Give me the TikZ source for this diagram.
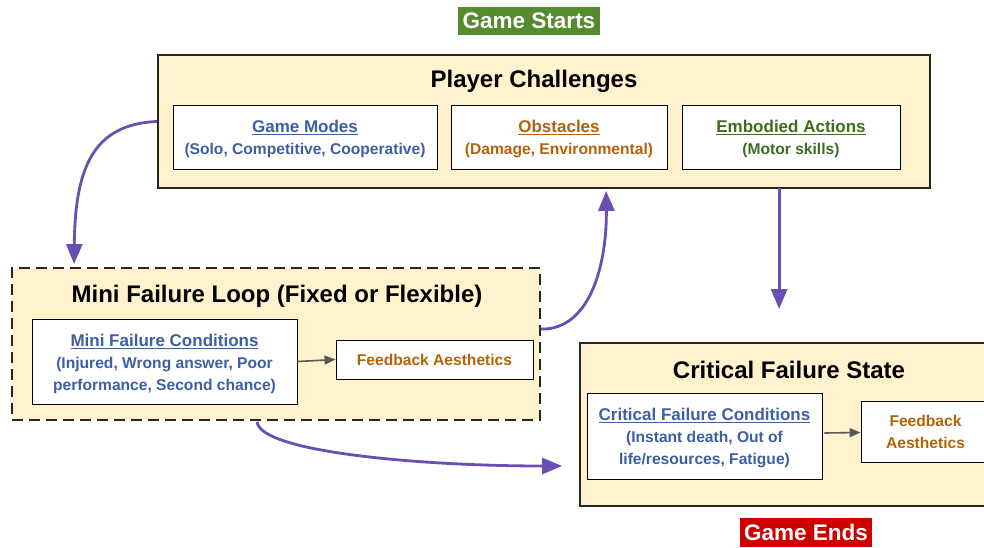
\documentclass[tikz,border=0pt]{standalone}
\usepackage{fontspec}
\setmainfont{Liberation Sans}
\usetikzlibrary{arrows.meta,calc}
\definecolor{boxfill}{HTML}{FFF2CC}
\definecolor{blueT}{HTML}{3D5FA3}
\definecolor{orangeT}{HTML}{B4620A}
\definecolor{greenT}{HTML}{3A6E22}
\definecolor{startG}{HTML}{558B2F}
\definecolor{endR}{HTML}{CC0000}
\definecolor{purp}{HTML}{6A4FB3}
\definecolor{grayA}{HTML}{595959}
\tikzset{
  bigbox/.style={draw=black!85, line width=1.8pt, fill=boxfill, inner sep=0pt},
  innerbox/.style={draw=black, line width=0.9pt, fill=white, inner sep=0pt, align=center,
    font=\fontsize{15.6}{22}\selectfont\bfseries},
  titletxt/.style={inner sep=0pt, font=\fontsize{24}{28}\selectfont\bfseries},
  tagbox/.style={inner sep=0pt, text=white, font=\fontsize{22.5}{26}\selectfont\bfseries},
  flow/.style={draw=purp, line width=2.8pt, -{Triangle[length=20pt,width=16pt]}},
  small/.style={draw=grayA, line width=1.6pt, -{Triangle[length=11pt,width=9pt]}},
}
\newcommand{\hd}[1]{\rule{0pt}{17pt}{\fontsize{17}{22}\selectfont\underline{#1}}}
\begin{document}
\begin{tikzpicture}[x=1pt,y=-1pt]
\useasboundingbox (0,0) rectangle (984,548);
\fill[white] (0,0) rectangle (984,548);

% Game Starts
\node[tagbox, fill=startG, minimum width=142, minimum height=28] (gs) at (529,21) {Game Starts};

% Player Challenges
\node[bigbox, minimum width=772, minimum height=133] (pc) at (544,121.5) {};
\node[titletxt] (pct) at (534,81.5) {Player Challenges};
\node[innerbox, text=blueT, minimum width=264, minimum height=64] (gm) at (305,137)
  {\hd{Game Modes}\\(Solo, Competitive, Cooperative)};
\node[innerbox, text=orangeT, minimum width=216, minimum height=64] (ob) at (559,137)
  {\hd{Obstacles}\\(Damage, Environmental)};
\node[innerbox, text=greenT, minimum width=218, minimum height=64] (ea) at (791,137)
  {\hd{Embodied Actions}\\(Motor skills)};

% Mini Failure Loop
\node[bigbox, dash pattern=on 11pt off 6pt, minimum width=528, minimum height=152] (ml) at (276,344) {};
\node[titletxt] (mlt) at (277,296.5) {Mini Failure Loop (Fixed or Flexible)};
\node[innerbox, text=blueT, minimum width=265, minimum height=85] (mc) at (164.5,361.5)
  {\hd{Mini Failure Conditions}\\(Injured, Wrong answer, Poor\\performance, Second chance)};
\node[innerbox, text=orangeT, minimum width=197, minimum height=39] (fb1) at (434.5,359.5)
  {Feedback Aesthetics};

% Critical Failure State
\node[bigbox, minimum width=410, minimum height=163] (cf) at (785,424.5) {};
\node[titletxt] (cft) at (789,369.5) {Critical Failure State};
\node[innerbox, text=blueT, minimum width=235, minimum height=86] (cc) at (704.5,436)
  {\hd{Critical Failure Conditions}\\(Instant death, Out of\\life/resources, Fatigue)};
\node[innerbox, text=orangeT, minimum width=129, minimum height=61] (fb2) at (925.5,431.5)
  {Feedback\\Aesthetics};

% Game Ends
\node[tagbox, fill=endR, minimum width=132, minimum height=29] (ge) at (806,532.5) {Game Ends};

% connectors
\coordinate (a3end) at ($(cf.north west)+(200,-33)$);
\coordinate (a4end) at ($(cf.west)+(-17,41.5)$);
\draw[flow] (pc.west) .. controls (92,124) and (75,170) .. ($(ml.north west)+(63,-3)$);
\draw[flow] ($(ml.north east)+(0,62)$) .. controls (592,330) and (607,260) .. ($(pc.south west)+(449,2)$);
\draw[flow] ($(pc.south west)+(622,-1)$) -- (a3end);
\draw[flow] ($(ml.south west)+(246,1)$) .. controls (260,452) and (420,466) .. (a4end);
\draw[small] (mc.east) -- (fb1.west);
\draw[small] ($(cc.east)+(2,-3)$) -- ($(fb2.west)+(0,1)$);
\end{tikzpicture}
\end{document}
